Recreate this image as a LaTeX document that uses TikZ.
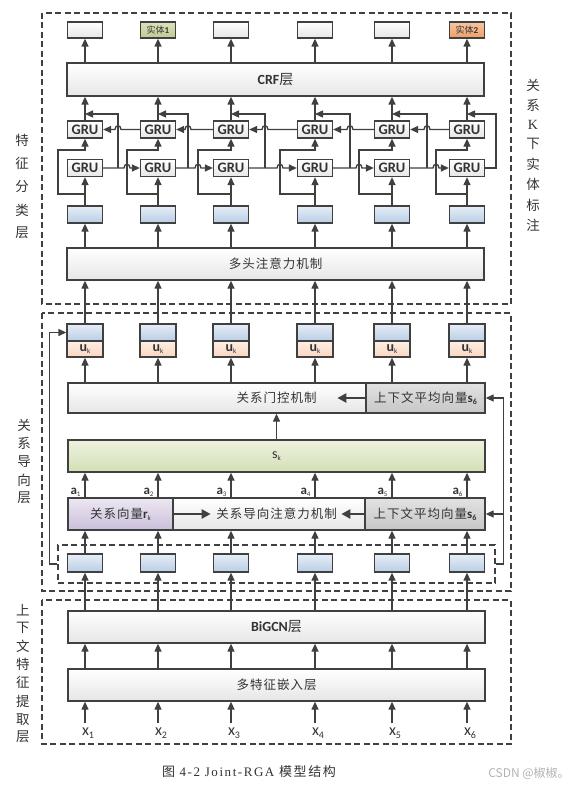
\documentclass[tikz,border=0pt]{standalone}
\usepackage{fontspec}
\setmainfont{Liberation Serif}
\setsansfont{Carlito}
\newfontfamily\cjk[LetterSpace=8]{Noto Sans CJK SC}
\newfontfamily\cjkn{Noto Sans CJK SC}
\newfontfamily\capf[LetterSpace=12]{Liberation Serif}
\newfontfamily\capc[LetterSpace=12]{Noto Sans CJK SC}
\usetikzlibrary{arrows.meta,calc}
\newcommand\myfs[1]{\fontsize{#1}{#1}\selectfont}
\newcommand\uk{{\sffamily\bfseries\myfs{14}u}\raisebox{-1.5pt}{\sffamily\myfs{7}k}}
\newcommand\sbold[1]{{\sffamily\bfseries\myfs{13}s}\raisebox{-2pt}{\sffamily\bfseries\myfs{8}#1}}
\definecolor{lc}{HTML}{404040}
\definecolor{tc}{HTML}{333333}
\definecolor{blT}{HTML}{E6EEF7}
\definecolor{blB}{HTML}{B9CDE5}
\definecolor{orT}{HTML}{FDEEE4}
\definecolor{orB}{HTML}{F8D7BF}
\definecolor{grT}{HTML}{EDF2E0}
\definecolor{grB}{HTML}{D3DFB4}
\definecolor{puT}{HTML}{ECE7F2}
\definecolor{puB}{HTML}{CBBFDB}
\definecolor{gyT}{HTML}{E2E2E2}
\definecolor{gyB}{HTML}{C6C6C6}
\definecolor{wB}{HTML}{E6E6E6}
\definecolor{e1T}{HTML}{DCE2BD}
\definecolor{e1B}{HTML}{BFC98F}
\definecolor{e2T}{HTML}{F8C6A2}
\definecolor{e2B}{HTML}{EE9E66}
\tikzset{
  box/.style={draw=lc, line width=1.3pt, top color=white, bottom color=wB, inner sep=0pt, text=tc},
  wide/.style={box, minimum width=417pt, minimum height=32pt},
  gru/.style={box, minimum width=35pt, minimum height=17pt, font=\sffamily\bfseries\myfs{14.5}},
  bluebox/.style={box, top color=blT, bottom color=blB, minimum width=35pt, minimum height=17pt},
  orbox/.style={box, top color=orT, bottom color=orB, minimum width=36pt, minimum height=16pt},
  outbox/.style={box, minimum width=35pt, minimum height=16pt, font=\myfs{9}},
  graybox/.style={box, top color=gyT, bottom color=gyB},
  arr/.style={draw=lc, line width=1.3pt, -{Triangle[length=8pt,width=7pt]}},
  thk/.style={draw=lc, line width=2.8pt, -{Triangle[length=9pt,width=9pt]}},
  ln/.style={draw=lc, line width=1.3pt},
  dbox/.style={draw=lc, line width=1.4pt, dash pattern=on 6pt off 3.5pt},
  side/.style={text=tc, align=center, font=\cjkn\myfs{13.5}},
  btxt/.style={font=\cjk\myfs{12.5}},
}
\begin{document}
\begin{tikzpicture}[x=1pt,y=-1pt]
\useasboundingbox (0,0) rectangle (588,789);
% outer dashed regions
\draw[dbox] (42,13) rectangle (511,304);
\draw[dbox] (42,313) rectangle (511,591);
\draw[dbox] (42,600) rectangle (511,744);
% side labels
\node[side] (lab1) at (22,188) {\begin{tabular}{@{}c@{}}特\\[8pt]征\\[8pt]分\\[8pt]类\\[8pt]层\end{tabular}};
\node[side] (lab2) at (24,463) {\begin{tabular}{@{}c@{}}关\\[3pt]系\\[3pt]导\\[3pt]向\\[3pt]层\end{tabular}};
\node[side] (lab3) at (23,675) {\begin{tabular}{@{}c@{}}上\\[3pt]下\\[3pt]文\\[3pt]特\\[3pt]征\\[3pt]提\\[3pt]取\\[3pt]层\end{tabular}};
\node[side] (lab4) at (533,157) {\begin{tabular}{@{}c@{}}关\\[5pt]系\\[5pt]{\rmfamily\myfs{14}K}\\[5pt]下\\[5pt]实\\[5pt]体\\[5pt]标\\[5pt]注\end{tabular}};
% wide boxes
\node[wide, minimum height=33pt] (crf) at (275.5,79.5) {\sffamily\bfseries\myfs{14}CRF\cjkn\mdseries 层};
\node[wide] (mh) at (275.5,264) [btxt] {多头注意力机制};
\node[wide, minimum height=30pt] (gate) at (276.5,398) [btxt] {关系门控机制};
\node[graybox, minimum width=119pt, minimum height=30pt] (gs) at (425.5,398) [btxt] {上下文平均向量\sbold{6}};
\node[wide, top color=grT, bottom color=grB] (sk) at (276.5,456) {\sffamily\myfs{14}s\raisebox{-1.5pt}{\myfs{7}k}};
\node[wide] (att) at (276.5,514) [btxt] {关系导向注意力机制};
\node[box, top color=puT, bottom color=puB, minimum width=105pt, minimum height=32pt] (rk) at (120.5,514) [btxt] {关系向量{\sffamily\bfseries\myfs{13}r}\raisebox{-1.5pt}{\sffamily\myfs{7}k}};
\node[graybox, minimum width=120pt, minimum height=32pt] (as) at (425,514) [btxt] {上下文平均向量\sbold{6}};
\node[dbox, line width=1.6pt, minimum width=437pt, minimum height=38pt] (ib) at (276.5,564) {};
\node[wide] (bg) at (276.5,627) {\sffamily\bfseries\myfs{14}BiGCN\cjkn\mdseries 层};
\node[wide] (emb) at (276.5,685) [btxt] {多特征嵌入层};
% column nodes
\foreach \i/\x in {1/85,2/158,3/231,4/315,5/392,6/467}{
  \node[gru] (gu\i) at (\x,129.5) {GRU};
  \node[gru] (gl\i) at (\x,168) {GRU};
  \node[bluebox] (tb\i) at (\x,214.5) {};
  \node[bluebox, minimum width=36pt] (ub\i) at (\x,332.5) {};
  \node[orbox] (uo\i) at (\x,349) {\uk};
  \node[bluebox, minimum height=18pt] (bb\i) at (\x,563) {};
  \node[text=tc, font=\sffamily\myfs{16}] (x\i) at (\x+3,733) {x\raisebox{-2.5pt}{\myfs{10}\i}};
  \node[text=tc, anchor=east] (a\i) at (\x-1,492) {{\sffamily\bfseries\myfs{13}a}\raisebox{-2pt}{\sffamily\myfs{7}\i}};
}
\node[outbox] (o1) at (85,30) {};
\node[outbox, top color=e1T, bottom color=e1B] (o2) at (158,30) {\cjkn 实体{\sffamily\bfseries 1}};
\node[outbox] (o3) at (231,30) {};
\node[outbox] (o4) at (315,30) {};
\node[outbox] (o5) at (392,30) {};
\node[outbox, top color=e2T, bottom color=e2B] (o6) at (467,30) {\cjkn 实体{\sffamily\bfseries 2}};
% per-column connectors
\foreach \i/\x/\L in {1/85/58,2/158/127,3/231/198,4/315/280,5/392/359,6/467/436}{
  \draw[arr] (crf.north -| o\i.south) -- (o\i.south);
  \draw[arr] (gu\i.north) -- (gu\i.north |- crf.south);
  \draw[arr] (tb\i.north) -- (gl\i.south);
  \draw[arr] (\x,194) -- (\L,194) -- (\L,150) -- (\x,150) -- (gu\i.south);
  \draw[arr] (mh.north -| tb\i.south) -- (tb\i.south);
  \draw[arr] (ub\i.north) -- (ub\i.north |- mh.south);
  \draw[arr] (gate.north -| uo\i.south) -- (uo\i.south);
  \draw[arr] (att.north -| bb\i.north) -- (sk.south -| bb\i.north);
  \draw[arr] (bb\i.north) -- (bb\i.north |- att.south);
  \draw[arr] (bg.north -| bb\i.south) -- (bb\i.south);
  \draw[arr] (emb.north -| bb\i.south) -- (bb\i.south |- bg.south);
  \draw[arr] ($(x\i.north -| bb\i.south)+(0,-1)$) -- (bb\i.south |- emb.south);
}
% GRU recurrent links
\foreach \i/\x/\R/\j/\Ln in {1/85/118/2/127,2/158/188/3/198,3/231/265/4/280,4/315/350/5/359,5/392/427/6/436}{
  \draw[arr] (gl\i.east) -- (\Ln-3,168) .. controls (\Ln-3,163) and (\Ln+3,163) .. (\Ln+3,168) -- (gl\j.west);
  \draw[arr] (\R,168) -- (\R,114) -- (\x,114);
  \draw[arr] (gu\j.west) -- (\R+3,129.5) .. controls (\R+3,124.5) and (\R-3,124.5) .. (\R-3,129.5) -- (gu\i.east);
}
\draw[arr] (gl6.east) -- (496,168) -- (496,114) -- (467,114);
% relation layer links
\draw[arr] (sk.north) -- (gate.south);
\draw[thk] (gs.west) -- ++(-28,0);
\draw[thk] (rk.east) -- ++(37,0);
\draw[thk] (as.west) -- ++(-23,0);
\coordinate (rr) at ($(ib.east)+(8,0)$);
\coordinate (ll) at ($(ib.west)+(-8,0)$);
\draw[arr] (ib.east) -- (rr) |- (gs.east);
\draw[arr] (rr |- as.east) -- (as.east);
\draw[arr] (ib.west) -- (ll) |- (ub1.west);
% caption
\node[text=tc] (cap) at (249,772) {\capc\myfs{13}图 \capf 4-2 Joint-RGA \capc 模型结构};
\node[text=black!30] (wm) at (529,773) {\cjkn\myfs{12}CSDN @椒椒。};
\end{tikzpicture}
\end{document}
